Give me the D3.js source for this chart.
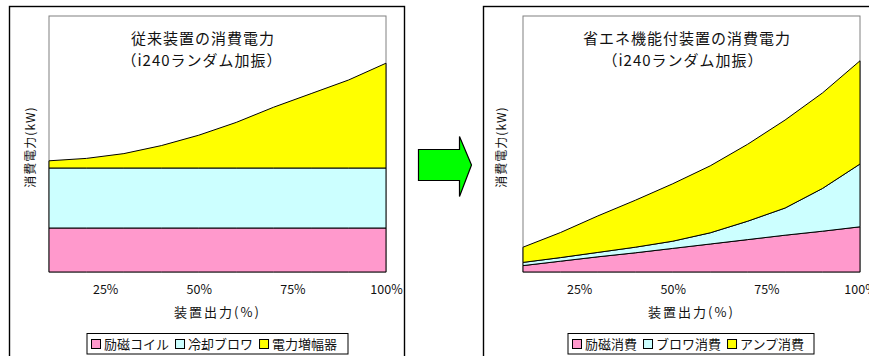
<!DOCTYPE html>
<html><head><meta charset="utf-8">
<script src="https://cdn.jsdelivr.net/npm/d3@7"></script>
<style>
body{margin:0;background:#fff;}
text{font-family:"Noto Sans CJK JP","Noto Sans",sans-serif;fill:#111;}
</style></head>
<body><svg id="c" width="869" height="356"></svg>
<script>
// ---- data ----
const outputs = [10, 20, 30, 40, 50, 60, 70, 80, 90, 100];   // 装置出力 (%)
const xTickValues = [25, 50, 75, 100];
// 従来装置
const convExcitation = [5.5, 5.5, 5.5, 5.5, 5.5, 5.5, 5.5, 5.5, 5.5, 5.5];
const convBlower     = [7.5, 7.5, 7.5, 7.5, 7.5, 7.5, 7.5, 7.5, 7.5, 7.5];
const convAmp        = [0.9, 1.2, 1.8, 2.8, 4.1, 5.7, 7.6, 9.3, 11.0, 13.1];
// 省エネ機能付装置
const saveExcitation = [0.8, 1.35, 1.9, 2.4, 2.95, 3.5, 4.05, 4.6, 5.1, 5.65];
const saveBlower     = [0.4, 0.45, 0.55, 0.7, 0.9, 1.4, 2.3, 3.4, 5.35, 7.85];
const saveAmp        = [1.9, 3.13, 4.56, 5.87, 7.18, 8.37, 9.62, 11.0, 11.94, 12.9];
const yMax = 32;
const colors = ["#FF99CC", "#CCFFFF", "#FFFF00"];
const convLegend = ["励磁コイル", "冷却ブロワ", "電力増幅器"];
const saveLegend = ["励磁消費", "ブロワ消費", "アンプ消費"];

const svg = d3.select("#c");

function panel(cfg) {
  const g = svg.append("g");
  // outer frame
  g.append("rect").attr("x", cfg.frameX).attr("y", 6.5).attr("width", cfg.frameW).attr("height", 360)
    .attr("fill", "#fff").attr("stroke", "#000").attr("stroke-width", 1.4);
  const x = d3.scaleLinear().domain([10, 100]).range([cfg.px0, cfg.px1]);
  const y = d3.scaleLinear().domain([0, yMax]).range([272, 16]);
  // plot area
  g.append("rect").attr("x", cfg.px0).attr("y", 16).attr("width", cfg.px1 - cfg.px0).attr("height", 256)
    .attr("fill", "#fff").attr("stroke", "#808080").attr("stroke-width", 1);
  const rows = outputs.map((o, i) => ({o, a: cfg.series[0][i], b: cfg.series[1][i], c: cfg.series[2][i]}));
  const stack = d3.stack().keys(["a", "b", "c"])(rows);
  const area = d3.area().x(d => x(d.data.o)).y0(d => y(d[0])).y1(d => y(d[1]));
  g.selectAll(".layer").data(stack).join("path")
    .attr("d", area).attr("fill", (d, i) => colors[i])
    .attr("stroke", "#000").attr("stroke-width", 1).attr("stroke-linejoin", "round");
  // titles
  cfg.title.forEach((t, i) => {
    g.append("text").attr("x", cfg.titleX[i]).attr("y", 43.5 + i * 22).attr("text-anchor", "middle")
      .attr("font-size", 15).attr("letter-spacing", 1).text(t);
  });
  // x axis labels
  const ax = g.append("g").attr("transform", "translate(0,272)")
    .call(d3.axisBottom(x).tickValues(xTickValues).tickSize(0).tickPadding(13).tickFormat(d => d + "%"));
  ax.select(".domain").remove();
  ax.selectAll("text").attr("font-size", 12.5).style("font-family", "'Noto Sans CJK JP',sans-serif").attr("fill", "#111");
  g.append("text").attr("x", (cfg.px0 + cfg.px1) / 2).attr("y", 317).attr("text-anchor", "middle")
    .attr("font-size", 13).attr("letter-spacing", 2).text("装置出力(%)");
  // y label
  g.append("text").attr("transform", `translate(${cfg.ylabX},147) rotate(-90)`).attr("text-anchor", "middle")
    .attr("dy", "0.35em").attr("font-size", 12).attr("letter-spacing", 1).text("消費電力(kW)");
  // legend
  const lg = g.append("g");
  lg.append("rect").attr("x", cfg.legX).attr("y", 333.5).attr("width", cfg.legW).attr("height", 20.5)
    .attr("fill", "#fff").attr("stroke", "#000").attr("stroke-width", 1);
  let cx = cfg.legX + 4;
  cfg.legend.forEach((t, i) => {
    lg.append("rect").attr("x", cx + 0.5).attr("y", 339.5).attr("width", 9).attr("height", 9)
      .attr("fill", colors[i]).attr("stroke", "#000").attr("stroke-width", 1);
    const tx = lg.append("text").attr("x", cx + 13).attr("y", 349).attr("font-size", 13).text(t);
    cx += 13 + tx.node().getComputedTextLength() + 6;
  });
}

panel({frameX: 9.5, frameW: 395, px0: 49, px1: 386, titleX: [203, 202], ylabX: 31,
  title: ["従来装置の消費電力", "（i240ランダム加振）"],
  series: [convExcitation, convBlower, convAmp], legend: convLegend, legX: 87, legW: 261});
panel({frameX: 483.5, frameW: 400, px0: 523, px1: 860, titleX: [687, 683], ylabX: 502,
  title: ["省エネ機能付装置の消費電力", "（i240ランダム加振）"],
  series: [saveExcitation, saveBlower, saveAmp], legend: saveLegend, legX: 568, legW: 246});

// arrow
const arrowPts = [[418.5, 149.5], [459.5, 149.5], [459.5, 136.5], [471.5, 165], [459.5, 196.5], [459.5, 180.5], [418.5, 180.5]];
svg.append("path").attr("d", d3.line()(arrowPts) + "Z").attr("fill", "#00FF00").attr("stroke", "#000").attr("stroke-width", 1.2);
</script></body></html>
